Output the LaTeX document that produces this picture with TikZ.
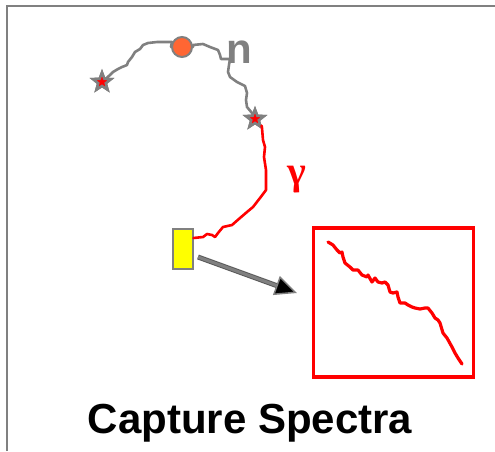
\documentclass[tikz,border=0pt]{standalone}
\usepackage{fontspec}
\setmainfont{Liberation Sans}
\newfontfamily\grk{Liberation Serif}
\usetikzlibrary{shapes.geometric,arrows.meta}
\definecolor{frame}{RGB}{128,128,128}
\definecolor{darkframe}{RGB}{90,90,90}
\definecolor{orng}{RGB}{255,102,51}
\definecolor{yel}{RGB}{255,255,0}
\begin{document}
\begin{tikzpicture}[x=1pt,y=-1pt,
  track/.style={draw=frame,line width=2.6pt,line join=round,line cap=round},
  gtrack/.style={draw=red,line width=2.6pt,line join=round,line cap=round},
  starnode/.style={star,star points=5,star point ratio=2.4,minimum size=19pt,inner sep=0pt,fill=red,draw=frame,line width=2.5pt},
]
\useasboundingbox (0,0) rectangle (495,451);
% frame
\draw[frame,line width=2pt] (7,451) -- (7,6) -- (495,6);
% nodes
\node[starnode] (s1) at (102,82) {};
\node[starnode] (s2) at (255,119) {};
\node[circle,fill=orng,draw=frame,line width=2pt,minimum size=20pt,inner sep=0pt] (c) at (182,47) {};
\node[fill=yel,draw=frame,line width=2pt,minimum width=20pt,minimum height=40pt,inner sep=0pt] (det) at (182.5,248.5) {};
\node[draw=red,line width=3.5pt,minimum width=160pt,minimum height=149pt,inner sep=0pt] (box) at (393.5,302.5) {};
% labels
\node[text=frame,font=\bfseries\fontsize{42}{42}\selectfont,inner sep=0pt,anchor=base] (nl) at (239,63) {n};
\node[text=red,font=\grk\bfseries\fontsize{40}{40}\selectfont,inner sep=0pt,anchor=base] (gl) at (297,184) {γ};
\node[font=\bfseries\fontsize{42}{42}\selectfont,inner sep=0pt,anchor=base] (title) at (250,433) {Capture Spectra};
% neutron track
\draw[track] (s1.center) -- (110,75) -- (113,72) -- (118,69) -- (122,67) -- (127,65) -- (128,62) -- (132,57) -- (135,52) -- (140,49) -- (143,45) -- (148,43) -- (157,42) -- (172,42) -- (c.west);
\draw[track] (c.east) -- (193,45) -- (203,44) -- (210,47) -- (218,50) -- (220,55) -- (221,59) -- (230,59) -- (229,65) -- (228,72) -- (230,77) -- (237,82) -- (245,86) -- (247,93) -- (246,100) -- (247,107) -- (252,113) -- (s2.center);
\node[starnode] at (s1) {};
\node[starnode] at (s2) {};
% gamma track
\draw[gtrack] (s2.south east) -- (262,128) -- (263,140) -- (265,147) -- (264,157) -- (266,170) -- (266,190) -- (260,198) -- (253,207) -- (247,212) -- (240,218) -- (232,225) -- (223,227) -- (218,233) -- (215,237) -- (212,235) -- (207,234) -- (203,237) -- (det.east |- 0,238);
% arrow
\coordinate (a0) at (198,257);
\coordinate (a1) at (297,293);
\draw[darkframe,line width=5pt,shorten >=18pt] (a0) -- (a1);
\draw[frame,line width=3pt,-{Triangle[length=22pt,width=20pt,fill=black,color=frame,line width=1.5pt]}] (a0) -- (a1);
% spectrum
\draw[red,line width=3.2pt,line join=round,line cap=round] (328,242) -- (333,245) -- (337,250) -- (340,253) -- (342,252) -- (343,257) -- (345,263) -- (350,267) -- (353,270) -- (358,270) -- (362,275) -- (367,277) -- (368,275) -- (372,282) -- (375,278) -- (378,282) -- (382,283) -- (385,282) -- (388,285) -- (390,292) -- (393,293) -- (397,292) -- (398,297) -- (400,303) -- (405,303) -- (408,305) -- (412,307) -- (415,308) -- (420,309) -- (425,308) -- (428,308) -- (432,313) -- (435,318) -- (438,320) -- (440,323) -- (443,333) -- (447,338) -- (452,347) -- (455,353) -- (458,358) -- (462,364);
\end{tikzpicture}
\end{document}
